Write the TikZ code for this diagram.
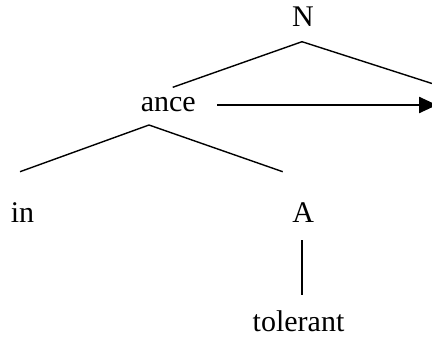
\documentclass[tikz,border=0pt]{standalone}
\usepackage{fontspec}
\setmainfont{Liberation Serif}
\usepackage{tikz}
\usetikzlibrary{arrows.meta}

\begin{document}
\begin{tikzpicture}[x=0.5pt, y=-0.5pt,
    label/.style={anchor=base, inner sep=0pt, font=\fontsize{15}{17}\selectfont},
    branch/.style={line width=0.7pt},
    move/.style={line width=1.2pt, -{Triangle[length=9pt, width=8pt]}}]
        \useasboundingbox (0,0) rectangle (432,338);
        % labels of the tree
        \node[label] (N) at (303,26.7) {N};
        \node[label] (ance) at (168.3,111) {ance};
        \node[label] (in) at (22.5,222.7) {in};
        \node[label] (A) at (303.3,222.7) {A};
        \node[label] (tol) at (298.5,331.7) {tolerant};
        % right daughter of N lies off the page
        \coordinate (Nright) at (446,88);
        \coordinate (target) at (437,105);
        % branches
        \draw[branch] ([shift={(-1,15)}]N.base) -- ([shift={(4.4,-23.7)}]ance.base);
        \draw[branch] ([shift={(-1,15)}]N.base) -- (Nright);
        \draw[branch] ([shift={(-19.3,14)}]ance.base) -- ([shift={(-2.5,-51)}]in.base);
        \draw[branch] ([shift={(-19.3,14)}]ance.base) -- ([shift={(-20.6,-51)}]A.base);
        \draw[branch] ([shift={(-1.3,17.3)}]A.base) -- ([shift={(3.5,-36.7)}]tol.base);
        \draw[move] ([shift={(49,-6)}]ance.base) -- (target);
      \end{tikzpicture}
\end{document}
